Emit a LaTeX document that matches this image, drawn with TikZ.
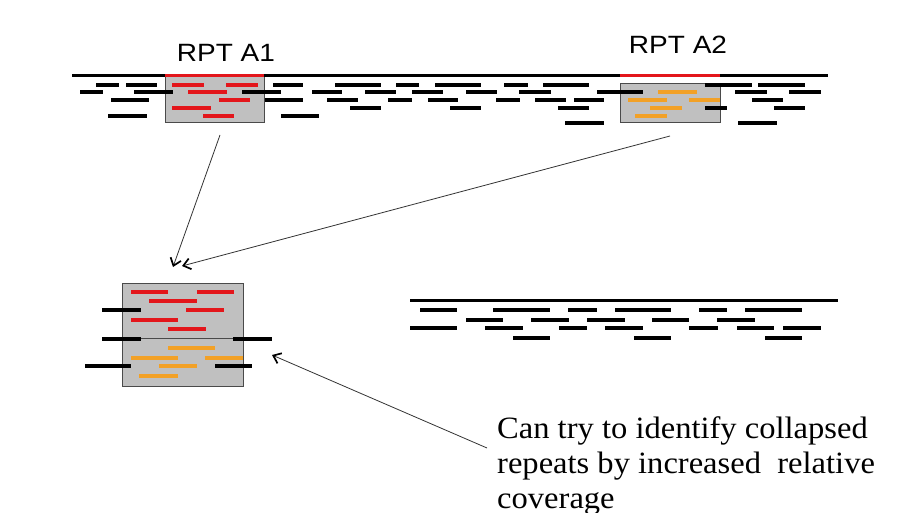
\documentclass[tikz,border=0pt]{standalone}
\usepackage{fontspec}
\usepackage{tikz}
\usetikzlibrary{arrows.meta}
\newfontfamily\lblfont[FakeStretch=1.12]{Liberation Sans}
\newfontfamily\txtfont[FakeStretch=1.05]{Liberation Serif}
\definecolor{rptred}{HTML}{E3161B}
\definecolor{rptorange}{HTML}{F2A127}
\definecolor{boxgray}{HTML}{C0C0C0}
\definecolor{boxline}{HTML}{4A4A4A}
\definecolor{arrowgray}{HTML}{333333}

\begin{document}
\begin{tikzpicture}[x=1pt,y=-1pt,
        	box/.style={shape=rectangle,draw=boxline,fill=boxgray,line width=1pt,inner sep=0pt},
        	genome/.style={line width=3pt,black},
        	rd/.style={line width=3.3pt,black},
        	rdred/.style={line width=3.3pt,rptred},
        	rdorange/.style={line width=3.3pt,rptorange},
        	pointer/.style={arrowgray,line width=0.8pt,-{Straight Barb[length=7pt,width=11pt,line width=1.7pt,black]}}]
        	
        	\useasboundingbox (0,0) rectangle (910,513);
        	
        	\node[box,minimum width=99pt,minimum height=47pt] (boxa) at (214.5, 99.5) {};
        	\node[box,minimum width=100pt,minimum height=39pt] (boxb) at (670, 103.5) {};
        	\node[box,minimum width=121pt,minimum height=55pt] (mergea) at (182.5, 310.5) {};
        	\node[box,minimum width=121pt,minimum height=48pt] (mergeb) at (182.5, 362) {};
        	
        	\node[anchor=base,inner sep=0pt,font=\lblfont\fontsize{25}{30}\selectfont] (labela) at (226, 62) {RPT A1};
        	\node[anchor=base,inner sep=0pt,font=\lblfont\fontsize{25}{30}\selectfont] (labelb) at (678, 54) {RPT A2};
        	\node[anchor=north west,inner sep=0pt,align=left,font=\txtfont\fontsize{31}{35}\selectfont] (note) at (497, 416)
        	{Can try to identify collapsed\\repeats by increased\ \ relative\\coverage};
        	
        	\draw[genome] (72,76) -- (828,76);
        	\draw[genome,rptred] (165,76) -- (264,76) (620,76) -- (720,76);
        	
        	\draw[rd] (96,85) -- (119,85) (126,85) -- (157,85) (273,85) -- (303,85) (335,85) -- (381,85) (396,85) -- (419,85)
        	    (435,85) -- (481,85) (504,85) -- (528,85) (543,85) -- (589,85) (705,85) -- (752,85) (758,85) -- (805,85);
        	\draw[rd] (80,92) -- (103,92) (134,92) -- (173,92) (242,92) -- (281,92) (312,92) -- (342,92) (365,92) -- (396,92)
        	    (412,92) -- (443,92) (466,92) -- (497,92) (519,92) -- (551,92) (597,92) -- (643,92) (735,92) -- (767,92) (789,92) -- (821,92);
        	\draw[rd] (111,100) -- (149,100) (265,100) -- (303,100) (327,100) -- (358,100) (388,100) -- (412,100) (428,100) -- (458,100)
        	    (496,100) -- (520,100) (535,100) -- (566,100) (574,100) -- (604,100) (752,100) -- (783,100);
        	\draw[rd] (350,108) -- (381,108) (450,108) -- (481,108) (558,108) -- (589,108) (705,108) -- (727,108) (774,108) -- (805,108);
        	\draw[rd] (108,116) -- (147,116) (281,116) -- (319,116);
        	\draw[rd] (565,123) -- (604,123) (738,123) -- (777,123);
        	
        	\draw[rdred] (172,85) -- (204,85) (226,85) -- (258,85) (188,92) -- (227,92) (219,100) -- (250,100)
        	    (172,108) -- (211,108) (203,116) -- (234,116);
        	\draw[rdorange] (658,92) -- (697,92) (628,100) -- (667,100) (689,100) -- (720,100) (650,108) -- (682,108) (635,116) -- (667,116);
        	
        	\draw[rdred] (131,292) -- (168,292) (197,292) -- (234,292) (186,310) -- (224,310) (131,320) -- (178,320) (168,329) -- (206,329);
        	\draw[rdred,line width=4pt] (149,301) -- (197,301);
        	\draw[rdorange] (168,348) -- (215,348) (131,358) -- (178,358) (205,358) -- (243,358) (159,366) -- (197,366) (139,376) -- (178,376);
        	\draw[rd] (102,310) -- (141,310) (102,339) -- (141,339) (233,339) -- (272,339) (85,366) -- (131,366) (215,366) -- (252,366);
        	
        	\draw[genome] (410,300) -- (838,300);
        	\draw[rd] (420,310) -- (457,310) (493,310) -- (550,310) (568,310) -- (597,310) (615,310) -- (671,310) (699,310) -- (727,310) (745,310) -- (802,310);
        	\draw[rd] (466,320) -- (503,320) (531,320) -- (569,320) (587,320) -- (625,320) (652,320) -- (689,320) (717,320) -- (755,320);
        	\draw[rd] (410,328) -- (457,328) (485,328) -- (523,328) (559,328) -- (587,328) (605,328) -- (643,328) (689,328) -- (718,328)
        	    (737,328) -- (774,328) (783,328) -- (821,328);
        	\draw[rd] (513,338) -- (550,338) (634,338) -- (671,338) (765,338) -- (802,338);
        	
        	\coordinate (taila) at (220, 135);
        	\coordinate (tailb) at (670, 136);
        	\coordinate (tailc) at (487, 448);
        	\coordinate (tipa) at (173, 267);
        	\coordinate (tipb) at (182, 266);
        	\coordinate (tipc) at (272, 355);
        	
        	\draw[pointer] (taila) -- (tipa);
        	\draw[pointer] (tailb) -- (tipb);
        	\draw[pointer] (tailc) -- (tipc);
        	
\end{tikzpicture}
\end{document}
